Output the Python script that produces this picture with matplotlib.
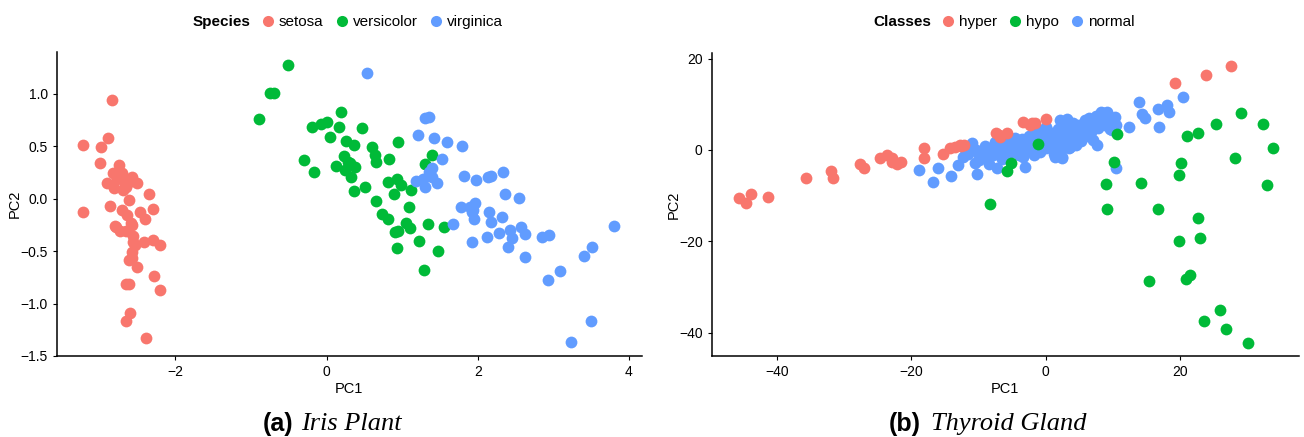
import numpy as np
import matplotlib.pyplot as plt
from matplotlib.lines import Line2D

plt.rcParams['font.family'] = ['Liberation Sans', 'DejaVu Sans']

# colores por defecto de ggplot
c_red = '#F8766D'
c_green = '#00BA38'
c_blue = '#619CFF'

# ---- (a) Iris: PCA ----
setosa_x = [-2.84, -3.22, -2.89, -2.98, -3.00, -2.75, -2.82, -2.71, -2.58, -2.51,
            -2.90, -2.81, -2.67, -2.62, -2.65, -2.35, -2.87, -2.61, -2.30, -3.22,
            -2.70, -2.64, -2.47, -2.40, -2.59, -2.80, -2.73, -2.65, -2.56, -2.54,
            -2.42, -2.30, -2.20, -2.57, -2.62, -2.51, -2.28, -2.65, -2.61, -2.20,
            -2.60, -2.65, -2.39, -2.77, -2.69, -2.58, -2.56, -2.58, -2.78, -2.67]
setosa_y = [0.94, 0.51, 0.58, 0.49, 0.34, 0.32, 0.24, 0.24, 0.21, 0.15,
            0.15, 0.10, 0.13, 0.16, 0.11, 0.04, -0.07, -0.01, -0.10, -0.13,
            -0.11, -0.16, -0.13, -0.19, -0.23, -0.26, -0.31, -0.31, -0.36, -0.44,
            -0.41, -0.39, -0.44, -0.51, -0.59, -0.65, -0.74, -0.81, -0.81, -0.87,
            -1.09, -1.17, -1.33, 0.19, 0.08, -0.25, -0.41, -0.57, -0.27, 0.19]

versicolor_x = [-0.51, -0.75, -0.70, -0.90, -0.19, -0.07, 0.00, 0.19, 0.17, 0.04,
                0.47, -0.30, -0.17, 0.26, 0.36, 0.60, 0.64, 0.66, 0.82, 0.95,
                0.23, 0.29, 0.13, 0.24, 0.37, 0.33, 1.39, 1.30, 0.81, 0.93,
                0.99, 0.36, 0.51, 1.12, 0.89, 0.65, 1.09, 0.73, 0.81, 1.05,
                1.10, 1.34, 1.56, 0.90, 0.95, 1.22, 0.93, 1.47, 1.29, 0.31]
versicolor_y = [1.27, 1.01, 1.01, 0.76, 0.68, 0.71, 0.73, 0.83, 0.68, 0.59,
                0.67, 0.37, 0.25, 0.55, 0.51, 0.49, 0.42, 0.35, 0.38, 0.54,
                0.41, 0.35, 0.31, 0.27, 0.30, 0.21, 0.42, 0.33, 0.16, 0.19,
                0.13, 0.07, 0.11, 0.08, 0.04, -0.02, -0.08, -0.15, -0.19, -0.23,
                -0.28, -0.24, -0.27, -0.32, -0.31, -0.40, -0.47, -0.50, -0.68, 0.34]

virginica_x = [0.53, 1.30, 1.36, 1.21, 1.42, 1.60, 1.79, 1.53, 1.40, 1.18,
               1.27, 1.40, 1.46, 1.30, 1.82, 1.98, 2.13, 2.17, 2.33, 2.36,
               2.54, 1.78, 1.90, 1.96, 1.92, 1.95, 1.67, 2.15, 2.18, 2.32,
               2.43, 2.45, 2.57, 2.63, 2.28, 2.12, 1.93, 2.40, 2.62, 2.85,
               2.94, 3.09, 2.93, 3.41, 3.51, 3.81, 3.50, 3.24, 1.36, 1.94]
virginica_y = [1.20, 0.77, 0.78, 0.61, 0.58, 0.54, 0.50, 0.38, 0.29, 0.17,
               0.19, 0.21, 0.15, 0.11, 0.22, 0.18, 0.21, 0.22, 0.25, 0.04,
               0.01, -0.08, -0.08, -0.04, -0.13, -0.19, -0.24, -0.13, -0.22, -0.18,
               -0.30, -0.38, -0.27, -0.34, -0.33, -0.37, -0.41, -0.46, -0.56, -0.37,
               -0.35, -0.69, -0.78, -0.55, -0.46, -0.26, -1.17, -1.37, 0.25, -0.11]

# ---- (b) Thyroid: PCA ----
hyper_x = [-45.7, -44.6, -43.8, -41.3, -35.7, -31.9, -31.7, -27.6, -27.0, -24.7,
           -23.6, -22.8, -22.2, -21.5, -22.9, -18.1, -18.1, -15.3, -14.3, -13.5,
           -12.8, -12.2, -7.4, -6.8, -5.8, -3.4, -2.4, -1.6, 0.0, 19.2,
           23.8, 27.6, -7.0, -2.0, -12.6]
hyper_y = [-10.6, -11.7, -9.6, -10.2, -6.1, -4.6, -6.1, -3.1, -3.9, -1.7,
           -1.1, -1.8, -3.1, -2.6, -2.7, 0.4, -1.8, -0.9, 0.4, 0.7,
           1.1, 1.1, 3.8, 2.9, 3.8, 6.2, 5.5, 6.0, 6.7, 14.6,
           16.4, 18.4, 3.3, 5.9, 0.9]

hypo_x = [-1.2, -5.2, -5.7, -8.3, 10.6, 10.2, 8.9, 9.1, 14.2, 16.7,
          15.4, 21.1, 22.6, 25.3, 29.1, 32.3, 33.8, 28.2, 33.0, 20.1,
          19.8, 22.6, 23.0, 19.9, 20.9, 21.4, 26.0, 23.5, 26.9, 30.1]
hypo_y = [1.3, -2.9, -4.7, -11.8, 3.5, -2.6, -7.4, -12.9, -7.3, -12.9,
          -28.6, 3.1, 3.7, 5.7, 8.0, 5.7, 0.4, -1.8, -7.7, -2.9,
          -5.5, -14.9, -19.2, -19.9, -28.3, -27.4, -35.0, -37.4, -39.2, -42.2]

normal_x = [-18.8, -16.8, -16.0, -14.1, -13.0, -12.3, -10.9, -10.4, -9.9, -10.5,
            -10.2, -8.4, -8.5, -7.2, -7.5, -6.9, -6.2, -5.3, -4.6, -4.1,
            -3.1, -3.4, -3.1, -1.9, -0.8, 0.1, 0.9, 1.4, 2.1, 3.1,
            4.1, 1.4, 2.4, 3.6, 4.6, 4.6, 2.4, 3.4, 4.1, 5.1,
            6.1, 7.1, 8.3, 9.1, 10.3, 9.8, 7.6, 10.5, 12.4, 13.9,
            14.3, 14.8, 16.8, 16.7, 18.0, 18.4, 20.4,
            -9.5, -9.0, -8.8, -8.0, -7.8, -7.0, -6.5, -6.0, -5.8, -5.5,
            -5.0, -4.8, -4.5, -4.0, -3.8, -3.5, -3.0, -2.8, -2.5, -2.2,
            -2.0, -1.8, -1.5, -1.2, -1.0, -0.8, -0.5, -0.2, 0.0, 0.3,
            0.5, 0.8, 1.0, 1.2, 1.5, 1.8, 2.0, 2.2, 2.5, 2.8,
            3.0, 3.2, 3.5, 3.8, 4.0, 4.2, 4.5, 4.8, 5.0, 5.2,
            5.5, 5.8, 6.0, 6.3, 6.5, 6.8, 7.0, 7.3, 7.5, 7.8,
            8.0, 8.5, 8.8, 9.2, 9.5, 10.0, 10.5, -11.0, -11.5, -10.0,
            -12.0]
normal_y = [-4.4, -7.1, -4.0, -5.6, -3.3, -1.5, 1.6, 0.0, -1.1, -2.9,
            -5.3, -0.4, -3.1, -4.0, 1.8, 0.0, -0.7, 0.7, 2.6, 0.0,
            1.5, -1.5, -3.8, 3.7, 4.4, 5.1, 2.9, 0.7, 6.6, 6.7,
            5.8, -1.5, -1.8, 0.7, 3.7, 1.8, -1.5, 0.4, 2.6, 4.4,
            5.5, 6.6, 8.4, 8.4, 7.3, 4.4, 1.1, -4.0, 5.0, 10.6,
            7.9, 6.9, 5.0, 8.9, 9.8, 8.4, 11.7,
            -0.5, 0.8, -2.0, 0.2, -1.2, 1.0, -2.0, 0.5, -1.0, 1.8,
            -0.5, 0.8, 2.0, -1.0, 0.5, 2.5, -0.3, 1.2, 3.0, 0.0,
            1.8, -1.2, 3.5, 0.8, 2.5, -0.5, 1.5, 3.2, 0.5, 2.0,
            4.0, 1.0, 3.0, -0.8, 2.2, 4.5, 1.5, 3.5, 0.5, 2.5,
            5.0, 1.8, 3.8, 6.0, 2.5, 4.5, 1.2, 3.2, 5.5, 2.0,
            4.0, 6.5, 3.0, 5.0, 7.0, 4.0, 2.2, 5.8, 7.5, 4.8,
            6.2, 8.0, 5.5, 7.0, 4.5, 6.2, 5.5, 0.8, -0.8, -2.2,
            0.3]

fig = plt.figure(figsize=(13.04, 4.37), dpi=100)
ax1 = fig.add_axes([0.0435, 0.1854, 0.4486, 0.6963])
ax2 = fig.add_axes([0.5458, 0.1854, 0.4504, 0.6940])

ms = 72
ax1.scatter(setosa_x, setosa_y, s=ms, color=c_red, linewidths=0)
ax1.scatter(versicolor_x, versicolor_y, s=ms, color=c_green, linewidths=0)
ax1.scatter(virginica_x, virginica_y, s=ms, color=c_blue, linewidths=0)
ax1.set_xlim(-3.57, 4.17)
ax1.set_ylim(-1.50, 1.40)
ax1.set_xticks([-2, 0, 2, 4])
ax1.set_yticks([-1.5, -1.0, -0.5, 0.0, 0.5, 1.0])
ax1.set_yticklabels(['\u22121.5', '\u22121.0', '\u22120.5', '0.0', '0.5', '1.0'])
ax1.set_xticklabels(['\u22122', '0', '2', '4'])

ax2.scatter(hyper_x, hyper_y, s=ms, color=c_red, linewidths=0, zorder=3)
ax2.scatter(normal_x, normal_y, s=ms, color=c_blue, linewidths=0, zorder=2)
ax2.scatter(hypo_x, hypo_y, s=ms, color=c_green, linewidths=0, zorder=4)
ax2.set_xlim(-49.7, 37.7)
ax2.set_ylim(-45.1, 21.3)
ax2.set_xticks([-40, -20, 0, 20])
ax2.set_xticklabels(['\u221240', '\u221220', '0', '20'])
ax2.set_yticks([-40, -20, 0, 20])
ax2.set_yticklabels(['\u221240', '\u221220', '0', '20'])

for ax in (ax1, ax2):
    ax.spines['top'].set_visible(False)
    ax.spines['right'].set_visible(False)
    ax.spines['left'].set_linewidth(1.1)
    ax.spines['bottom'].set_linewidth(1.1)
    ax.tick_params(direction='out', length=3, width=0.8, labelsize=10, colors='black')
    ax.set_xlabel('PC1', fontsize=10.5, labelpad=2)
    ax.set_ylabel('PC2', fontsize=10.5, labelpad=-1)

# leyendas arriba
def top_legend(title, names, cols, x_title, y):
    fig.text(x_title / 1304, y, title, fontsize=11, fontweight='bold', ha='left', va='center')
    handles = [Line2D([], [], marker='o', linestyle='', markersize=8, color=c, markeredgewidth=0)
               for c in cols]
    leg = fig.legend(handles, names, loc='center left', ncol=3, frameon=False,
                     bbox_to_anchor=((x_title + 60) / 1304, y), fontsize=11,
                     handletextpad=0.1, columnspacing=0.6, handlelength=1.2, borderaxespad=0)
    return leg

top_legend('Species', ['setosa', 'versicolor', 'virginica'], [c_red, c_green, c_blue], 193, 1 - 22 / 437)
top_legend('Classes', ['hyper', 'hypo', 'normal'], [c_red, c_green, c_blue], 873, 1 - 22 / 437)

# pies de figura
yc = 1 - 424 / 437
fig.text(263 / 1304, yc, '(a)', fontsize=18, fontweight='bold', ha='left', va='center')
fig.text(301 / 1304, yc, 'Iris Plant', fontsize=19, style='italic', family='Liberation Serif',
         ha='left', va='center')
fig.text(889 / 1304, yc, '(b)', fontsize=18, fontweight='bold', ha='left', va='center')
fig.text(931 / 1304, yc, 'Thyroid Gland', fontsize=19, style='italic', family='Liberation Serif',
         ha='left', va='center')

fig.savefig('out.png', dpi=100)
